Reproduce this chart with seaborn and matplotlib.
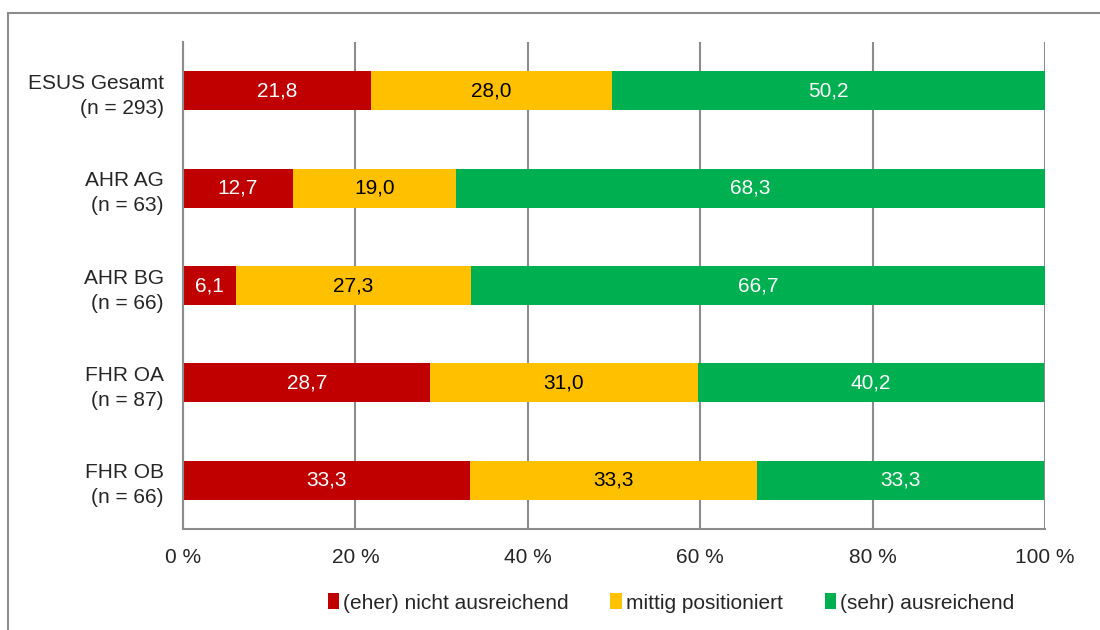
import numpy as np
import pandas as pd
import matplotlib
matplotlib.use("Agg")
import matplotlib.pyplot as plt
import seaborn as sns
from matplotlib.patches import Rectangle, Patch

groups = ["ESUS Gesamt\n(n = 293)", "AHR AG\n(n = 63)", "AHR BG\n(n = 66)",
          "FHR OA\n(n = 87)", "FHR OB\n(n = 66)"]
series = ["(eher) nicht ausreichend", "mittig positioniert", "(sehr) ausreichend"]
nicht = [21.8, 12.7, 6.1, 28.7, 33.3]
mittig = [28.0, 19.0, 27.3, 31.0, 33.3]
sehr = [50.2, 68.3, 66.7, 40.2, 33.3]
colors = ["#C00000", "#FFC000", "#00B050"]
text_colors = ["white", "black", "white"]

sns.set_style("white")
plt.rcParams["font.family"] = ["Liberation Sans", "DejaVu Sans"]

df = pd.DataFrame({"group": groups, series[0]: nicht, series[1]: mittig, series[2]: sehr})
# cumulative widths for stacking (draw widest first)
cum = df[series].cumsum(axis=1)

fig = plt.figure(figsize=(11, 6.3), dpi=100)
ax = fig.add_axes([0.1664, 0.1603, 0.7836, 0.7730])

for i in reversed(range(3)):
    sns.barplot(x=cum[series[i]], y=df["group"], orient="h", color=colors[i],
                width=0.4, saturation=1, ax=ax, edgecolor="none")

# value labels in the middle of each segment
for i, s in enumerate(series):
    for j, g in enumerate(groups):
        v = df.loc[j, s]
        xc = cum.loc[j, s] - v / 2
        ax.text(xc, j, f"{v:.1f}".replace(".", ","), ha="center", va="center",
                color=text_colors[i], fontsize=15)

ax.set_xlim(0, 100)
ax.set_ylim(4.5, -0.5)
ax.set_xticks(np.arange(0, 101, 20))
ax.set_xticklabels([f"{t} %" for t in range(0, 101, 20)])
ax.xaxis.grid(True, color="#8c8c8c", linewidth=1.5)
ax.set_axisbelow(True)
ax.set_xlabel("")
ax.set_ylabel("")
ax.tick_params(axis="x", length=0, pad=14, labelsize=15)
ax.tick_params(axis="y", length=0, pad=14, labelsize=15)
for lab in ax.get_yticklabels():
    lab.set_linespacing(1.4)
for side in ["top", "right"]:
    ax.spines[side].set_visible(False)
for side in ["left", "bottom"]:
    ax.spines[side].set_color("#8c8c8c")
    ax.spines[side].set_linewidth(1.5)

handles = [Patch(facecolor=c, edgecolor="none") for c in colors]
fig.legend(handles, series, loc="center", bbox_to_anchor=(0.61, 0.043), ncol=3,
           frameon=False, fontsize=15, handlelength=0.55, handleheight=0.8,
           handletextpad=0.2, columnspacing=2.0)

# outer chart frame (cut off at right and bottom)
fig.patches.append(Rectangle((0.0073, -0.2), 1.2, 1.18, transform=fig.transFigure,
                             fill=False, edgecolor="#8c8c8c", linewidth=1.5))

fig.savefig("out.png", dpi=100)
